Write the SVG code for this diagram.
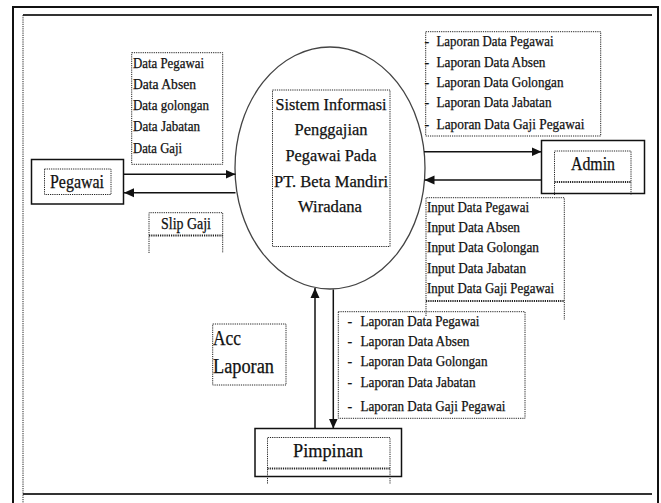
<svg xmlns="http://www.w3.org/2000/svg" width="661" height="503" viewBox="0 0 661 503" font-family="'Liberation Serif', 'Times New Roman', serif">
<style>
text{font-family:'Liberation Serif','Times New Roman',serif;fill:#111;stroke:#111;stroke-width:0.25}
.lbl{font-size:14px}
.frame{fill:none;stroke:#111;stroke-width:2}
.inner{fill:none;stroke:#333;stroke-width:2}
.dot{fill:none;stroke:#222;stroke-width:1;stroke-dasharray:1.2,1}
.dotb{fill:none;stroke:#222;stroke-width:2;stroke-dasharray:1.2,1}
.ent{fill:#fff;stroke:#111;stroke-width:1.5}
.flow{fill:none;stroke:#111;stroke-width:1.5}
</style>
<defs>
<marker id="ah" markerUnits="userSpaceOnUse" markerWidth="10" markerHeight="10" refX="10" refY="5" orient="auto">
<path d="M0,0.5 L10,5 L0,9.5 z" fill="#111"/>
</marker>
</defs>
<rect width="661" height="503" fill="#fff"/>
<g id="frame">
<path class="frame" d="M13,503 V7 H658 V503"/>
<path class="inner" d="M23,15 H652 M23,494 H652"/>
<path class="dot" d="M23,15 V503"/>
</g>
<g id="process">
<ellipse cx="330" cy="168" rx="95" ry="121" fill="none" stroke="#444" stroke-width="1.3"/>
<rect class="dot" x="272.5" y="90" width="117.5" height="156.5"/>
<g font-size="17" text-anchor="middle">
<text x="331" y="110" textLength="111" lengthAdjust="spacingAndGlyphs">Sistem Informasi</text>
<text x="331" y="135" textLength="73" lengthAdjust="spacingAndGlyphs">Penggajian</text>
<text x="331" y="161" textLength="91" lengthAdjust="spacingAndGlyphs">Pegawai Pada</text>
<text x="331" y="186.5" textLength="114" lengthAdjust="spacingAndGlyphs">PT. Beta Mandiri</text>
<text x="330" y="212" textLength="64" lengthAdjust="spacingAndGlyphs">Wiradana</text>
</g>
</g>
<g id="pegawai">
<rect class="ent" x="31.5" y="159.5" width="92" height="44.5"/>
<rect class="dot" x="44.5" y="169" width="66.5" height="25.5"/>
<text x="50" y="188" font-size="18" textLength="54" lengthAdjust="spacingAndGlyphs">Pegawai</text>
</g>
<g id="admin">
<rect class="ent" x="541.5" y="140.5" width="103" height="53"/>
<path class="dot" d="M554.5,195 V151 H631 V195"/>
<path class="dotb" d="M554.5,182 H631"/>
<text x="571" y="170" font-size="18" textLength="44" lengthAdjust="spacingAndGlyphs">Admin</text>
</g>
<g id="pimpinan">
<rect class="ent" x="255" y="428.5" width="146.5" height="48"/>
<path class="dot" d="M267.5,483.5 V437.5 H390 V483.5"/>
<path class="dotb" d="M267.5,468.5 H390"/>
<text x="293" y="457" font-size="19" textLength="70" lengthAdjust="spacingAndGlyphs">Pimpinan</text>
</g>
<g id="connectors">
<line class="flow" x1="123.5" y1="174.3" x2="235.5" y2="174.3" marker-end="url(#ah)"/>
<line class="flow" x1="235.5" y1="192.7" x2="124" y2="192.7" marker-end="url(#ah)"/>
<line class="flow" x1="424" y1="151.7" x2="541.5" y2="151.7" marker-end="url(#ah)"/>
<line class="flow" x1="541.5" y1="180" x2="424.5" y2="180" marker-end="url(#ah)"/>
<line class="flow" x1="315" y1="428.5" x2="315" y2="288" marker-end="url(#ah)"/>
<line class="flow" x1="333.3" y1="289.5" x2="333.3" y2="428.5" marker-end="url(#ah)"/>
</g>
<g id="label-data">
<rect class="dot" x="131.7" y="52.7" width="91" height="111.6"/>
<g class="lbl">
<text x="133" y="68" textLength="71" lengthAdjust="spacingAndGlyphs">Data Pegawai</text>
<text x="133" y="89" textLength="63" lengthAdjust="spacingAndGlyphs">Data Absen</text>
<text x="133" y="110" textLength="76" lengthAdjust="spacingAndGlyphs">Data golongan</text>
<text x="133" y="131" textLength="67" lengthAdjust="spacingAndGlyphs">Data Jabatan</text>
<text x="133" y="153" textLength="49" lengthAdjust="spacingAndGlyphs">Data Gaji</text>
</g>
</g>
<g id="label-slip">
<path class="dot" d="M149,253 V212.7 H222.7 V253"/>
<path class="dotb" d="M149,235.5 H222.7"/>
<text x="161" y="229" font-size="16" textLength="50" lengthAdjust="spacingAndGlyphs">Slip Gaji</text>
</g>
<g id="label-laporan-admin">
<rect class="dot" x="425.7" y="31.7" width="175" height="104.3"/>
<g class="lbl">
<text x="424.5" y="46">-</text>
<text x="436.5" y="46" textLength="117" lengthAdjust="spacingAndGlyphs">Laporan Data Pegawai</text>
<text x="424.5" y="66.5">-</text>
<text x="436.5" y="66.5" textLength="109" lengthAdjust="spacingAndGlyphs">Laporan Data Absen</text>
<text x="424.5" y="87">-</text>
<text x="436.5" y="87" textLength="127" lengthAdjust="spacingAndGlyphs">Laporan Data Golongan</text>
<text x="424.5" y="107">-</text>
<text x="436.5" y="107" textLength="115" lengthAdjust="spacingAndGlyphs">Laporan Data Jabatan</text>
<text x="424.5" y="129">-</text>
<text x="436.5" y="129" textLength="148" lengthAdjust="spacingAndGlyphs">Laporan Data Gaji Pegawai</text>
</g>
</g>
<g id="label-input">
<path class="dot" d="M426,316 V197.7 H564.3 V320"/>
<path class="dotb" d="M426,301 H564.3"/>
<g class="lbl">
<text x="427" y="212" textLength="102" lengthAdjust="spacingAndGlyphs">Input Data Pegawai</text>
<text x="427" y="232" textLength="93" lengthAdjust="spacingAndGlyphs">Input Data Absen</text>
<text x="427" y="252" textLength="112" lengthAdjust="spacingAndGlyphs">Input Data Golongan</text>
<text x="427" y="273" textLength="99" lengthAdjust="spacingAndGlyphs">Input Data Jabatan</text>
<text x="427" y="293" textLength="127" lengthAdjust="spacingAndGlyphs">Input Data Gaji Pegawai</text>
</g>
</g>
<g id="label-laporan-pimpinan">
<rect class="dot" x="338.3" y="311.7" width="186.7" height="106.6"/>
<g class="lbl">
<text x="347.5" y="326">-</text>
<text x="360.5" y="326" textLength="119" lengthAdjust="spacingAndGlyphs">Laporan Data Pegawai</text>
<text x="347.5" y="346">-</text>
<text x="360.5" y="346" textLength="109" lengthAdjust="spacingAndGlyphs">Laporan Data Absen</text>
<text x="347.5" y="366">-</text>
<text x="360.5" y="366" textLength="127" lengthAdjust="spacingAndGlyphs">Laporan Data Golongan</text>
<text x="347.5" y="387">-</text>
<text x="360.5" y="387" textLength="115" lengthAdjust="spacingAndGlyphs">Laporan Data Jabatan</text>
<text x="347.5" y="411">-</text>
<text x="360.5" y="411" textLength="145" lengthAdjust="spacingAndGlyphs">Laporan Data Gaji Pegawai</text>
</g>
</g>
<g id="label-acc">
<rect class="dot" x="212.7" y="324" width="73.3" height="61"/>
<g font-size="20">
<text x="213" y="345" textLength="28" lengthAdjust="spacingAndGlyphs">Acc</text>
<text x="213" y="373" textLength="61" lengthAdjust="spacingAndGlyphs">Laporan</text>
</g>
</g>
</svg>
